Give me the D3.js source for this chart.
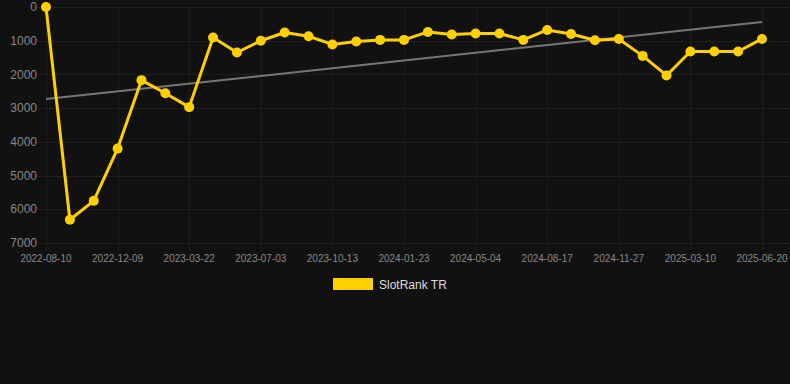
<!DOCTYPE html>
<html lang="en">
<head>
  <meta charset="UTF-8">
  <title>SlotRank TR</title>
  <script src="https://d3js.org/d3.v7.min.js"></script>
  <style>
    html, body { margin: 0; padding: 0; background: #111111; }
    body { width: 790px; height: 384px; overflow: hidden; font-family: Arial, "Liberation Sans", sans-serif; }
    svg { display: block; }
  </style>
</head>
<body>
  <div id="chart"></div>
  <script>
    // dates (category axis, every 3rd one is labelled)
    const dates = [
      '2022-08-10', '2022-09-20', '2022-10-30', '2022-12-09', '2023-01-12', '2023-02-16',
      '2023-03-22', '2023-04-26', '2023-05-30', '2023-07-03', '2023-08-06', '2023-09-09',
      '2023-10-13', '2023-11-16', '2023-12-20', '2024-01-23', '2024-02-26', '2024-03-31',
      '2024-05-04', '2024-06-08', '2024-07-13', '2024-08-17', '2024-09-20', '2024-10-24',
      '2024-11-27', '2024-12-31', '2025-02-04', '2025-03-10', '2025-04-13', '2025-05-17',
      '2025-06-20'
    ];
    const rankTR = [
      1, 6310, 5750, 4200, 2170, 2560, 2970, 905, 1350, 1000, 757, 867,
      1110, 1025, 976, 976, 740, 817, 787, 787, 976, 680, 800, 985,
      947, 1450, 2030, 1320, 1320, 1320, 947
    ];
    const trend = [2730, 445]; // trend line at first and last date
    const yTicks = [0, 1000, 2000, 3000, 4000, 5000, 6000, 7000];

    const W = 790, H = 384;
    const m = { left: 46, right: 762, top: 7, bottom: 243 };

    const svg = d3.select('#chart').append('svg')
      .attr('width', W).attr('height', H);

    const x = d3.scalePoint().domain(dates).range([m.left, m.right]);
    const y = d3.scaleLinear().domain([0, 7000]).range([m.top, m.bottom]);

    const grid = '#1e1e1e';

    // horizontal grid + y labels
    const gy = svg.append('g');
    gy.selectAll('line').data(yTicks).enter().append('line')
      .attr('x1', 38).attr('x2', W)
      .attr('y1', d => Math.round(y(d)) + 0.5).attr('y2', d => Math.round(y(d)) + 0.5)
      .attr('stroke', grid).attr('stroke-width', 1);
    gy.selectAll('text').data(yTicks).enter().append('text')
      .attr('x', 37).attr('y', d => y(d))
      .attr('dy', '0.35em')
      .attr('text-anchor', 'end')
      .attr('fill', '#888')
      .attr('font-size', 12)
      .text(d => d);

    // vertical grid + x labels
    const xTicks = dates.filter((d, i) => i % 3 === 0);
    const gx = svg.append('g');
    gx.selectAll('line').data(xTicks).enter().append('line')
      .attr('x1', d => Math.round(x(d)) + 0.5).attr('x2', d => Math.round(x(d)) + 0.5)
      .attr('y1', m.top).attr('y2', m.bottom + 8)
      .attr('stroke', grid).attr('stroke-width', 1);
    gx.selectAll('text').data(xTicks).enter().append('text')
      .attr('x', d => x(d)).attr('y', 262)
      .attr('text-anchor', 'middle')
      .attr('fill', '#888')
      .attr('font-size', 10)
      .text(d => d);

    // trend line
    svg.append('line')
      .attr('x1', x(dates[0])).attr('y1', y(trend[0]))
      .attr('x2', x(dates[dates.length - 1])).attr('y2', y(trend[1]))
      .attr('stroke', '#777').attr('stroke-width', 2);

    // series
    const yellow = '#FFD000';
    const line = d3.line().x((d, i) => x(dates[i])).y(d => y(d));
    svg.append('path').datum(rankTR)
      .attr('d', line)
      .attr('fill', 'none')
      .attr('stroke', yellow)
      .attr('stroke-width', 3)
      .attr('stroke-linejoin', 'round');
    svg.append('g').selectAll('circle').data(rankTR).enter().append('circle')
      .attr('cx', (d, i) => x(dates[i])).attr('cy', d => y(d))
      .attr('r', 5)
      .attr('fill', yellow);

    // legend
    const lg = svg.append('g');
    lg.append('rect').attr('x', 333).attr('y', 278).attr('width', 40).attr('height', 12)
      .attr('fill', yellow);
    lg.append('text').attr('x', 379).attr('y', 285).attr('dy', '0.35em')
      .attr('fill', '#ddd').attr('font-size', 12)
      .text('SlotRank TR');
  </script>
</body>
</html>
